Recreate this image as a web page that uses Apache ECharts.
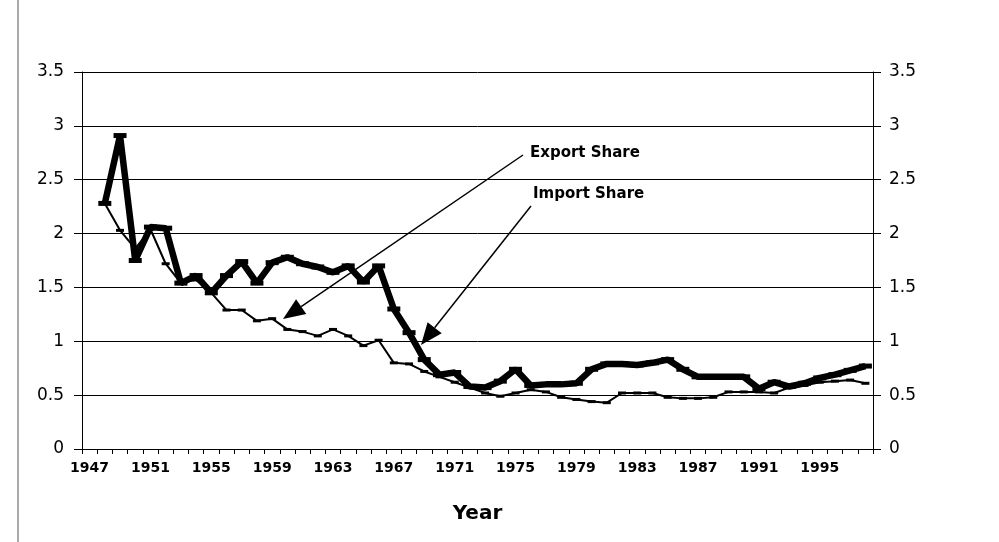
<!DOCTYPE html>
<html>
<head>
<meta charset="utf-8">
<script src="https://cdn.jsdelivr.net/npm/echarts@6/dist/echarts.min.js"></script>
<style>
  html, body { margin: 0; padding: 0; background: #fff; }
  #chart { width: 999px; height: 542px; }
</style>
</head>
<body>
<div id="chart"></div>
<script>
// categories
var years = ['1947', '1948', '1949', '1950', '1951', '1952', '1953', '1954', '1955', '1956',
  '1957', '1958', '1959', '1960', '1961', '1962', '1963', '1964', '1965', '1966',
  '1967', '1968', '1969', '1970', '1971', '1972', '1973', '1974', '1975', '1976',
  '1977', '1978', '1979', '1980', '1981', '1982', '1983', '1984', '1985', '1986',
  '1987', '1988', '1989', '1990', '1991', '1992', '1993', '1994', '1995', '1996',
  '1997', '1998']

// thick line
var importShare = ['-', 2.28, 2.91, 1.75, 2.06, 2.05, 1.54, 1.61, 1.45, 1.61,
  1.74, 1.54, 1.73, 1.78, 1.72, 1.69, 1.64, 1.70, 1.55, 1.70,
  1.30, 1.08, 0.83, 0.69, 0.71, 0.58, 0.57, 0.63, 0.74, 0.59,
  0.60, 0.60, 0.61, 0.74, 0.79, 0.79, 0.78, 0.80, 0.83, 0.74,
  0.67, 0.67, 0.67, 0.67, 0.56, 0.62, 0.58, 0.61, 0.66, 0.69,
  0.73, 0.77]

// thin line
var exportShare = ['-', 2.28, 2.03, 1.86, 2.04, 1.72, 1.54, 1.57, 1.45, 1.29,
  1.29, 1.19, 1.21, 1.11, 1.09, 1.05, 1.11, 1.05, 0.96, 1.01,
  0.80, 0.79, 0.72, 0.67, 0.62, 0.57, 0.52, 0.49, 0.52, 0.55,
  0.53, 0.48, 0.46, 0.44, 0.43, 0.52, 0.52, 0.52, 0.48, 0.47,
  0.47, 0.48, 0.53, 0.53, 0.53, 0.52, 0.57, 0.59, 0.62, 0.63,
  0.64, 0.61]

var yTicks = ['0', '0.5', '1', '1.5', '2', '2.5', '3', '3.5']

var myEchart = echarts.init(document.getElementById('chart'))

// arrow: line plus a filled head at the end point
function arrow(x1, y1, x2, y2) {
  var dx = x2 - x1, dy = y2 - y1
  var len = Math.sqrt(dx * dx + dy * dy)
  var ux = dx / len, uy = dy / len
  var hl = 22, hw = 9
  var bx = x2 - ux * hl, by = y2 - uy * hl
  return [
    {
      type: 'line',
      shape: { x1: x1, y1: y1, x2: bx, y2: by },
      style: { stroke: '#000', lineWidth: 1.5 }
    },
    {
      type: 'polygon',
      shape: { points: [[x2, y2], [bx - uy * hw, by + ux * hw], [bx + uy * hw, by - ux * hw]] },
      style: { fill: '#000' }
    }
  ]
}

var yAxisBase = {
  type: 'value',
  min: 0,
  max: 3.5,
  interval: 0.5,
  axisLine: { show: true, lineStyle: { color: '#000', width: 1 } },
  axisTick: { show: true, length: 8, lineStyle: { color: '#000' } },
  axisLabel: {
    color: '#000',
    fontSize: 17,
    fontFamily: 'DejaVu Sans',
    margin: 18,
    formatter: function (v) { return yTicks[Math.round(v / 0.5)] }
  },
  splitLine: { show: true, lineStyle: { color: '#000', width: 1 } }
}

var options = {
  animation: false,
  backgroundColor: '#fff',
  grid: {
    left: 82,
    right: 126,
    top: 72,
    bottom: 93
  },
  xAxis: {
    type: 'category',
    data: years,
    boundaryGap: true,
    name: 'Year',
    nameLocation: 'middle',
    nameGap: 55,
    nameTextStyle: {
      color: '#000',
      fontSize: 20,
      fontWeight: 'bold',
      fontFamily: 'DejaVu Sans'
    },
    axisLine: { show: true, lineStyle: { color: '#000', width: 1 } },
    axisTick: { show: true, interval: 0, length: 5, lineStyle: { color: '#000' } },
    axisLabel: {
      interval: 3,
      color: '#000',
      fontSize: 14,
      fontWeight: 'bold',
      fontFamily: 'DejaVu Sans',
      margin: 12
    },
    splitLine: { show: false }
  },
  yAxis: [
    Object.assign({}, yAxisBase, { position: 'left' }),
    Object.assign({}, yAxisBase, {
      position: 'right',
      splitLine: { show: false },
      axisLabel: Object.assign({}, yAxisBase.axisLabel, { margin: 16 })
    })
  ],
  series: [
    {
      name: 'Export Share',
      type: 'line',
      data: exportShare,
      symbol: 'rect',
      symbolSize: [8, 3],
      lineStyle: { color: '#000', width: 2 },
      itemStyle: { color: '#000' },
      z: 3
    },
    {
      name: 'Import Share',
      type: 'line',
      data: importShare,
      symbol: 'rect',
      symbolSize: [13, 5],
      lineStyle: { color: '#000', width: 6.5 },
      itemStyle: { color: '#000' },
      z: 4
    }
  ],
  graphic: [].concat(
    [
      {
        type: 'line',
        shape: { x1: 18, y1: 0, x2: 18, y2: 542 },
        style: { stroke: '#555', lineWidth: 1 }
      },
      {
        type: 'text',
        left: 530,
        top: 146,
        style: { text: 'Export Share', fill: '#000', font: 'bold 15px "DejaVu Sans"' }
      },
      {
        type: 'text',
        left: 533,
        top: 187,
        style: { text: 'Import Share', fill: '#000', font: 'bold 15px "DejaVu Sans"' }
      }
    ],
    arrow(523, 155, 283, 319),
    arrow(531, 206, 421, 345)
  )
}

myEchart.setOption(options)
</script>
</body>
</html>
